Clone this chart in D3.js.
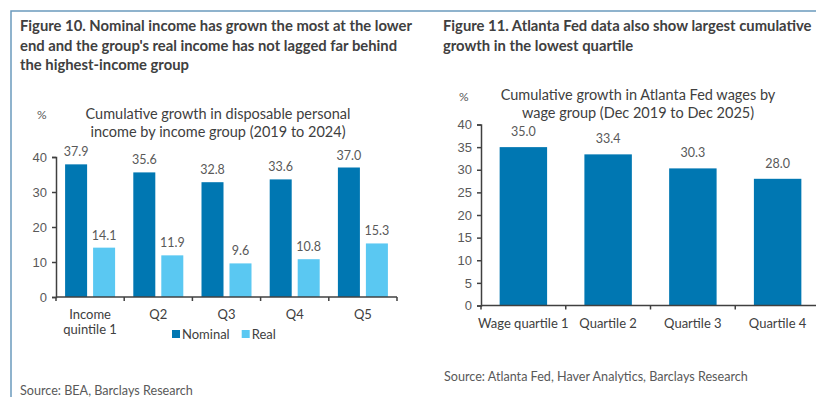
<!DOCTYPE html>
<html>
<head>
<meta charset="utf-8">
<script src="https://cdn.jsdelivr.net/npm/d3@7"></script>
<style>
  body { margin: 0; background: #fff; }
  svg { font-family: Lato, "Open Sans", sans-serif; }
</style>
</head>
<body>
<svg width="816" height="397"></svg>
<script>
// data
const incomeGroups = ["Income quintile 1", "Q2", "Q3", "Q4", "Q5"];
const nominal = [37.9, 35.6, 32.8, 33.6, 37.0];
const real = [14.1, 11.9, 9.6, 10.8, 15.3];
const incomeSeries = ["Nominal", "Real"];
const incomeTicks = [0, 10, 20, 30, 40];

const wageGroups = ["Wage quartile 1", "Quartile 2", "Quartile 3", "Quartile 4"];
const wageGrowth = [35.0, 33.4, 30.3, 28.0];
const wageTicks = [0, 5, 10, 15, 20, 25, 30, 35, 40];

const DARK = "#0077b2";
const LIGHT = "#5ac8f2";
const TXT = "#404040";
const LBL = "#595959";

const svg = d3.select("svg");

// frame
svg.append("path")
    .attr("d", "M11,397 L11,11 L816,11")
    .attr("fill", "none")
    .attr("stroke", "#6b9bbd")
    .attr("stroke-width", 1.5);

function addLines(x, y, lines, opts) {
    const t = svg.append("text")
        .attr("x", x).attr("y", y)
        .attr("fill", opts.fill || TXT)
        .attr("font-size", opts.size)
        .attr("font-weight", opts.weight || "normal")
        .attr("text-anchor", opts.anchor || "start");
    lines.forEach((l, i) => {
        t.append("tspan").attr("x", x).attr("dy", i == 0 ? 0 : opts.lh).text(l);
    });
    return t;
}

// ---------- Figure 10 ----------
addLines(20, 31, ["Figure 10. Nominal income has grown the most at the lower",
                  "end and the group's real income has not lagged far behind",
                  "the highest-income group"], {size: 14.8, weight: "bold", lh: 19.5});
addLines(37, 119, ["%"], {size: 12, fill: LBL});
addLines(218, 119, ["Cumulative growth in disposable personal",
                    "income by income group (2019 to 2024)"], {size: 14.5, anchor: "middle", lh: 18});

const x1 = d3.scaleBand().domain(incomeGroups).range([56, 397]).padding(0);
const xs1 = d3.scaleBand().domain(incomeSeries).range([0, x1.bandwidth()])
    .paddingInner(0.214).paddingOuter(0.325);
const y1 = d3.scaleLinear().domain([0, 40]).range([297, 157]);

const g1 = svg.append("g");
const rows1 = incomeGroups.map((c, i) => ({c: c, vals: [nominal[i], real[i]]}));

rows1.forEach(r => {
    r.vals.forEach((v, j) => {
        const s = incomeSeries[j];
        g1.append("rect")
            .attr("x", x1(r.c) + xs1(s))
            .attr("y", y1(v))
            .attr("width", xs1.bandwidth())
            .attr("height", y1(0) - y1(v))
            .attr("fill", j == 0 ? DARK : LIGHT);
        g1.append("text")
            .attr("x", x1(r.c) + xs1(s) + xs1.bandwidth() / 2)
            .attr("y", y1(v) - 8)
            .attr("text-anchor", "middle")
            .attr("font-size", 12.5)
            .attr("fill", LBL)
            .text(v.toFixed(1));
    });
});

const yAxis1 = g1.append("g")
    .attr("transform", "translate(56,0)")
    .call(d3.axisLeft(y1).tickValues(incomeTicks).tickSize(4).tickPadding(5));
yAxis1.selectAll("text").attr("font-size", 13).attr("fill", LBL).attr("font-family", null);

const xAxis1 = g1.append("g");
xAxis1.append("line")
    .attr("x1", x1.range()[0]).attr("x2", x1.range()[1])
    .attr("y1", y1(0)).attr("y2", y1(0));
incomeGroups.concat([null]).forEach((c, i) => {
    const xx = c ? x1(c) : x1.range()[1];
    xAxis1.append("line").attr("x1", xx).attr("x2", xx).attr("y1", y1(0)).attr("y2", y1(0) + 4);
});
xAxis1.selectAll("line").attr("stroke", TXT).attr("stroke-width", 1.5);
yAxis1.selectAll("line, path").attr("stroke", TXT).attr("stroke-width", 1.5);

incomeGroups.forEach(c => {
    const parts = c == "Income quintile 1" ? ["Income", "quintile 1"] : [c];
    addLines(x1(c) + x1.bandwidth() / 2, 319, parts, {size: 13, fill: TXT, anchor: "middle", lh: 15});
});

// legend
const leg1 = svg.append("g").attr("transform", "translate(172,330)");
let lx = 0;
incomeSeries.forEach((s, j) => {
    leg1.append("rect").attr("x", lx).attr("y", 0).attr("width", 8).attr("height", 8)
        .attr("fill", j == 0 ? DARK : LIGHT);
    const t = leg1.append("text").attr("x", lx + 10).attr("y", 9)
        .attr("font-size", 13).attr("fill", TXT).text(s);
    lx += 10 + t.node().getComputedTextLength() + 12;
});

addLines(20, 395, ["Source: BEA, Barclays Research"], {size: 12.6, fill: LBL});

// ---------- Figure 11 ----------
addLines(443, 31, ["Figure 11. Atlanta Fed data also show largest cumulative",
                   "growth in the lowest quartile"], {size: 14.8, weight: "bold", lh: 19.5});
addLines(459, 101, ["%"], {size: 12, fill: LBL});
addLines(638, 100, ["Cumulative growth in Atlanta Fed wages by",
                    "wage group (Dec 2019 to Dec 2025)"], {size: 14.5, anchor: "middle", lh: 18});

const x2 = d3.scaleBand().domain(wageGroups).range([481, 820]).paddingInner(0.44).paddingOuter(0.22);
const xb2 = d3.scaleBand().domain(wageGroups).range([481, 820]).padding(0);
const y2 = d3.scaleLinear().domain([0, 40]).range([305.5, 124.5]);

const g2 = svg.append("g");
wageGroups.forEach((c, i) => {
    const v = wageGrowth[i];
    g2.append("rect")
        .attr("x", x2(c)).attr("y", y2(v))
        .attr("width", x2.bandwidth()).attr("height", y2(0) - y2(v))
        .attr("fill", DARK);
    g2.append("text")
        .attr("x", x2(c) + x2.bandwidth() / 2).attr("y", y2(v) - 11)
        .attr("text-anchor", "middle").attr("font-size", 12.5).attr("fill", LBL)
        .text(v.toFixed(1));
    addLines(xb2(c) + xb2.bandwidth() / 2, 328, [c], {size: 13, fill: TXT, anchor: "middle"});
});

const yAxis2 = g2.append("g")
    .attr("transform", "translate(481,0)")
    .call(d3.axisLeft(y2).tickValues(wageTicks).tickSize(4).tickPadding(5));
yAxis2.selectAll("text").attr("font-size", 13).attr("fill", LBL).attr("font-family", null);
yAxis2.selectAll("line, path").attr("stroke", TXT).attr("stroke-width", 1.5);

const xAxis2 = g2.append("g");
xAxis2.append("line")
    .attr("x1", xb2.range()[0]).attr("x2", xb2.range()[1])
    .attr("y1", y2(0)).attr("y2", y2(0));
wageGroups.forEach(c => {
    const xx = xb2(c);
    xAxis2.append("line").attr("x1", xx).attr("x2", xx).attr("y1", y2(0)).attr("y2", y2(0) + 4);
});
xAxis2.selectAll("line").attr("stroke", TXT).attr("stroke-width", 1.5);

addLines(444, 381, ["Source: Atlanta Fed, Haver Analytics, Barclays Research"], {size: 12.6, fill: LBL});
</script>
</body>
</html>
